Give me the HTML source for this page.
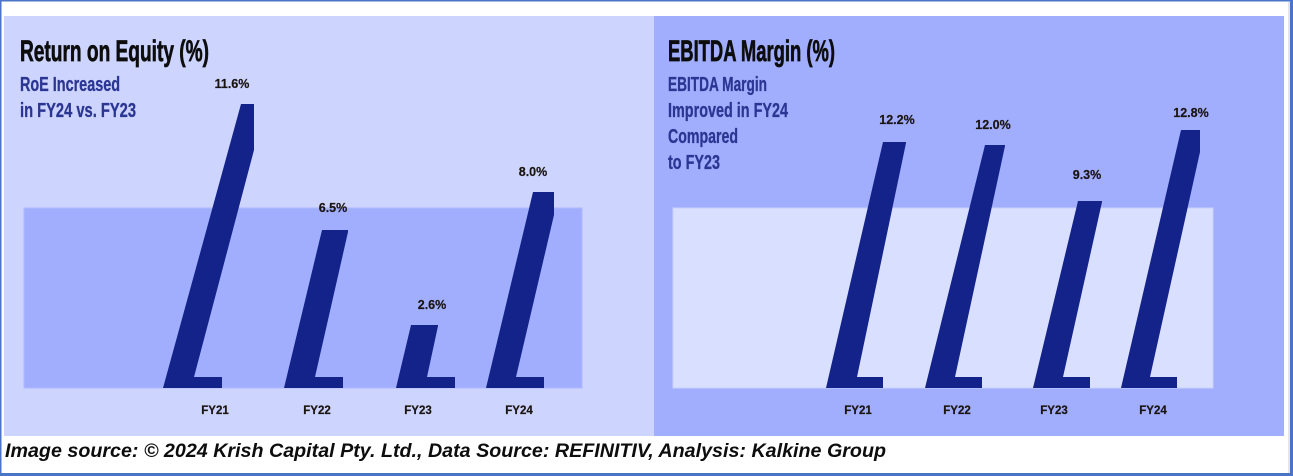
<!DOCTYPE html>
<html>
<head>
<meta charset="utf-8">
<style>
  html, body { margin: 0; padding: 0; background: #ffffff; }
  body { width: 1293px; height: 476px; overflow: hidden; }
  svg { display: block; }
  .t { font-family: "Liberation Sans", "DejaVu Sans", sans-serif; }
</style>
</head>
<body>
<svg width="1293" height="476" viewBox="0 0 1293 476" xmlns="http://www.w3.org/2000/svg">
  <!-- background -->
  <rect x="0" y="0" width="1293" height="476" fill="#ffffff"/>

  <!-- left panel -->
  <rect x="4" y="16" width="650" height="420" fill="#CDD4FD"/>
  <rect x="24" y="208" width="558" height="180" fill="#A1AEFD" stroke="#AEB9FD" stroke-width="1"/>

  <!-- right panel -->
  <rect x="654" y="16" width="630" height="420" fill="#A1ADFD"/>
  <rect x="673" y="208" width="540" height="180" fill="#D9DFFE" stroke="#C9D1FE" stroke-width="1"/>

  <!-- outer border -->
  <rect x="0" y="0" width="1293" height="1.5" fill="#4A74C6"/>
  <rect x="0" y="0" width="1.5" height="476" fill="#4A74C6"/>
  <rect x="1290" y="0" width="3" height="476" fill="#4A74C6"/>
  <rect x="0" y="473" width="1293" height="3" fill="#4A74C6"/>
  <rect x="1288.5" y="2" width="1" height="471" fill="#C8C8C8"/>

  <!-- LEFT CHART BARS -->
  <g fill="#14238A">
    <polygon points="241,104 254,104 254,150 194,377 222,377 222,388 163,388"/>
    <polygon points="322,230 348,230 348,232 315,377 343,377 343,388 284,388"/>
    <polygon points="411,325 438,325 438,326 427,377 455,377 455,388 396,388"/>
    <polygon points="533,192 554,192 554,215 516,377 544,377 544,388 486,388"/>
  </g>

  <!-- RIGHT CHART BARS -->
  <g fill="#14238A">
    <polygon points="883,142 906,142 906,143 857,377 883,377 883,388 826,388"/>
    <polygon points="985,145 1005,145 1005,146 955,377 982,377 982,388 925,388"/>
    <polygon points="1078,201 1102,201 1102,202 1063,377 1090,377 1090,388 1033,388"/>
    <polygon points="1181,130 1200,130 1200,152 1150,377 1177,377 1177,388 1121,388"/>
  </g>

  <!-- Titles -->
  <text class="t" x="20" y="61" font-size="30" font-weight="bold" fill="#0d0d0d" stroke="#0d0d0d" stroke-width="0.7" textLength="189" lengthAdjust="spacingAndGlyphs">Return on Equity (%)</text>
  <text class="t" x="668" y="61" font-size="30" font-weight="bold" fill="#0d0d0d" stroke="#0d0d0d" stroke-width="0.7" textLength="167" lengthAdjust="spacingAndGlyphs">EBITDA Margin (%)</text>

  <!-- Subtitles -->
  <g class="t" font-size="20" font-weight="bold" fill="#2A3692" stroke="#2A3692" stroke-width="0.3">
    <text x="20" y="91" textLength="100" lengthAdjust="spacingAndGlyphs">RoE Increased</text>
    <text x="20" y="117" textLength="116" lengthAdjust="spacingAndGlyphs">in FY24 vs. FY23</text>
    <text x="668" y="91" textLength="99" lengthAdjust="spacingAndGlyphs">EBITDA Margin</text>
    <text x="668" y="117" textLength="120" lengthAdjust="spacingAndGlyphs">Improved in FY24</text>
    <text x="668" y="143" textLength="70" lengthAdjust="spacingAndGlyphs">Compared</text>
    <text x="668" y="169" textLength="52" lengthAdjust="spacingAndGlyphs">to FY23</text>
  </g>

  <!-- Data labels -->
  <g class="t" font-size="12.5" font-weight="bold" fill="#1a1410" stroke="#1a1410" stroke-width="0.2" text-anchor="middle">
    <text x="232" y="88">11.6%</text>
    <text x="333" y="212">6.5%</text>
    <text x="432" y="309">2.6%</text>
    <text x="533" y="176">8.0%</text>
    <text x="897" y="124">12.2%</text>
    <text x="993" y="129">12.0%</text>
    <text x="1087" y="179">9.3%</text>
    <text x="1191" y="117">12.8%</text>
  </g>

  <!-- Category labels -->
  <g class="t" font-size="11.5" font-weight="bold" fill="#1a1410" stroke="#1a1410" stroke-width="0.2" text-anchor="middle">
    <text x="215" y="414">FY21</text>
    <text x="317" y="414">FY22</text>
    <text x="418" y="414">FY23</text>
    <text x="519" y="414">FY24</text>
    <text x="858" y="414">FY21</text>
    <text x="957" y="414">FY22</text>
    <text x="1054" y="414">FY23</text>
    <text x="1153" y="414">FY24</text>
  </g>

  <!-- Footer -->
  <text class="t" x="5" y="457" font-size="19.5" font-weight="bold" font-style="italic" fill="#0d0d0d" textLength="881" lengthAdjust="spacingAndGlyphs">Image source: © 2024 Krish Capital Pty. Ltd., Data Source: REFINITIV, Analysis: Kalkine Group</text>
</svg>
</body>
</html>
